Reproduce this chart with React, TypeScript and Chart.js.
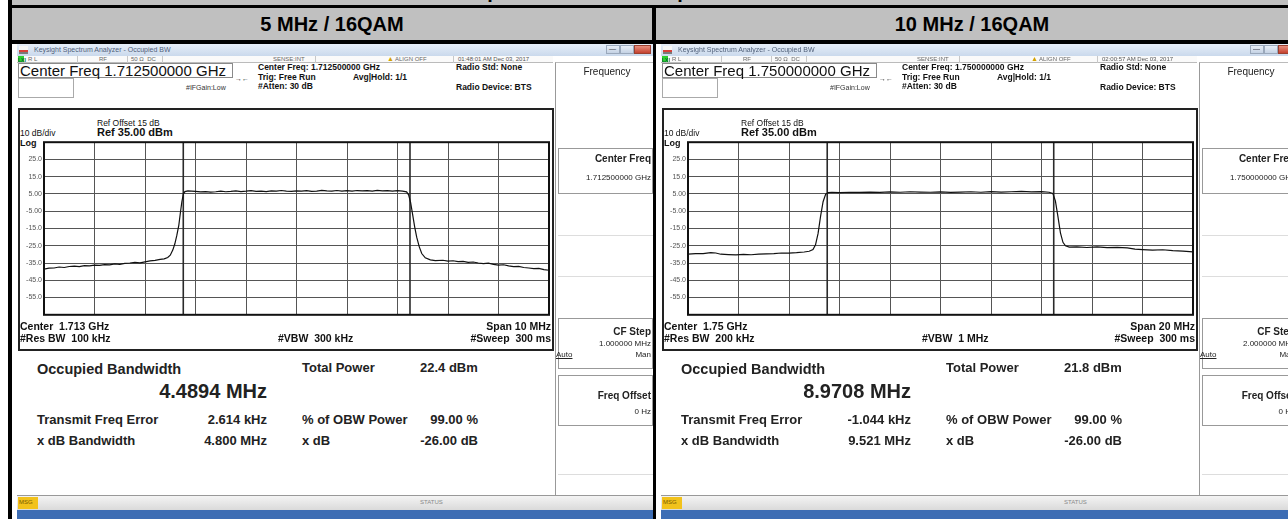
import React, { useEffect, useRef } from "react";
import { Chart, registerables } from "chart.js";

Chart.register(...registerables);

const FONT = "'Liberation Sans', Arial, Helvetica, sans-serif";

// ---------- data ----------
const pageTitle = "Spectrum Plot - Occupied Bandwidth";
const panelTitles = ["5 MHz / 16QAM", "10 MHz / 16QAM"];
const centerFreqText = ["1.712500000 GHz", "1.750000000 GHz"];
const axisCenterText = ["1.713 GHz", "1.75 GHz"];
const spanMHz = [10, 20];
const spanText = ["10 MHz", "20 MHz"];
const resBwText = ["100 kHz", "200 kHz"];
const vbwText = ["300 kHz", "1 MHz"];
const cfStepText = ["1.000000 MHz", "2.000000 MHz"];
const timestampText = ["01:48:01 AM Dec 03, 2017", "02:00:57 AM Dec 03, 2017"];
const obwMHz = [4.4894, 8.9708];
const obwText = ["4.4894 MHz", "8.9708 MHz"];
const totalPowerText = ["22.4 dBm", "21.8 dBm"];
const freqErrorText = ["2.614 kHz", "-1.044 kHz"];
const freqErrorMHz = [0.002614, -0.001044];
const xdbBwText = ["4.800 MHz", "9.521 MHz"];
const obwPowerText = "99.00 %";
const xdbText = "-26.00 dB";

const Y_MIN = -65;
const Y_MAX = 35;
const yTickValues = [35, 25, 15, 5, -5, -15, -25, -35, -45, -55, -65];
const yTickLabels = ["", "25.0", "15.0", "5.00", "-5.00", "-15.0", "-25.0", "-35.0", "-45.0", "-55.0", ""];

// 5 MHz trace (offset from center, MHz) / level (dBm)
const trace5Freq = [
  -5.0, -4.9, -4.8, -4.7, -4.6, -4.5, -4.4, -4.3, -4.2, -4.1, -4.0, -3.9, -3.8, -3.7, -3.6, -3.5,
  -3.4, -3.3, -3.2, -3.1, -3.0, -2.9, -2.8, -2.7, -2.62, -2.55, -2.5, -2.45, -2.41, -2.37, -2.33,
  -2.3, -2.27, -2.24, -2.21, -2.15, -2.0, -1.9, -1.8, -1.7, -1.6, -1.5, -1.4, -1.3, -1.2, -1.1,
  -1.0, -0.9, -0.8, -0.7, -0.6, -0.5, -0.4, -0.3, -0.2, -0.1, 0.0, 0.1, 0.2, 0.3, 0.4, 0.5, 0.6,
  0.7, 0.8, 0.9, 1.0, 1.1, 1.2, 1.3, 1.4, 1.5, 1.6, 1.7, 1.8, 1.9, 2.0, 2.1, 2.18, 2.22, 2.26,
  2.3, 2.34, 2.38, 2.43, 2.48, 2.55, 2.65, 2.75, 2.9, 3.0, 3.1, 3.2, 3.3, 3.4, 3.5, 3.6, 3.7,
  3.8, 3.9, 4.0, 4.1, 4.2, 4.3, 4.4, 4.5, 4.6, 4.7, 4.8, 4.9, 5.0,
];
const trace5Level = [
  -38.6, -38.0, -37.9, -37.3, -37.6, -37.0, -36.8, -37.1, -36.5, -36.7, -36.2, -36.4, -35.9, -36.1, -35.5, -35.8,
  -35.2, -35.0, -34.6, -34.9, -34.3, -33.8, -33.5, -32.9, -32.6, -31.8, -30.5, -27.5, -24.0, -19.0, -13.0,
  -6.0, 0.5, 5.0, 6.4, 6.8, 6.5, 6.2, 6.4, 6.1, 6.3, 6.6, 6.3, 6.5, 6.8, 6.4,
  6.6, 6.9, 6.5, 6.7, 6.4, 6.8, 6.6, 7.0, 6.7, 6.5, 6.8, 6.6, 6.9, 6.5, 6.7, 7.1, 6.8,
  6.6, 7.0, 6.7, 6.9, 6.6, 7.0, 6.8, 6.9, 6.7, 7.1, 6.8, 6.9, 6.7, 6.9, 6.6, 6.2, 4.5, 0.0,
  -7.0, -14.0, -20.0, -25.5, -29.5, -32.0, -33.2, -33.6, -33.4, -33.9, -33.7, -34.2, -34.0, -34.6, -34.4, -35.0, -35.3,
  -35.1, -35.8, -36.2, -36.0, -36.7, -37.1, -37.0, -37.6, -37.9, -38.3, -38.1, -38.8, -39.2,
];

// 10 MHz trace
const trace10Freq = [
  -10.0, -9.7, -9.4, -9.1, -8.9, -8.7, -8.4, -8.1, -7.8, -7.5, -7.2, -6.9, -6.6, -6.3, -6.0, -5.7,
  -5.4, -5.2, -5.05, -4.95, -4.85, -4.75, -4.65, -4.55, -4.45, -4.3, -4.0, -3.6, -3.2, -2.8, -2.4,
  -2.0, -1.6, -1.2, -0.8, -0.4, 0.0, 0.4, 0.8, 1.2, 1.6, 2.0, 2.4, 2.8, 3.2, 3.6, 4.0, 4.3,
  4.45, 4.55, 4.65, 4.75, 4.85, 4.95, 5.1, 5.4, 5.8, 6.2, 6.6, 7.0, 7.4, 7.7, 8.0, 8.4, 8.8,
  9.2, 9.6, 10.0,
];
const trace10Level = [
  -29.8, -29.5, -29.6, -29.0, -29.2, -29.9, -30.1, -30.3, -30.0, -30.2, -29.9, -29.7, -29.5, -29.2, -29.3, -29.0,
  -28.6, -28.2, -27.2, -24.5, -18.0, -8.0, 0.5, 4.8, 5.8, 6.0, 5.8, 6.0, 5.9, 6.1, 5.9,
  6.2, 6.0, 6.3, 6.1, 6.0, 6.2, 5.9, 6.1, 6.3, 6.0, 6.4, 6.1, 6.3, 6.5, 6.2, 6.4, 6.0,
  5.3, 1.0, -8.0, -17.5, -23.0, -25.0, -25.8, -25.6, -26.0, -25.7, -26.1, -25.9, -26.2, -27.0, -27.2, -27.5, -27.3,
  -27.8, -28.1, -28.5,
];

const traceFreqs = [trace5Freq, trace10Freq];
const traceLevels = [trace5Level, trace10Level];

// ---------- helpers ----------
type TP = {
  x: number; y: number; s: number; w?: number; al?: "left" | "right" | "center";
  b?: boolean; c?: string; children?: React.ReactNode; style?: React.CSSProperties;
};
function T({ x, y, s, w = 400, al = "left", b = false, c = "#111", children, style }: TP) {
  const left = al === "left" ? x : al === "right" ? x - w : x - w / 2;
  return (
    <div
      style={{
        position: "absolute", left, top: y - s * 0.6, width: w, textAlign: al,
        fontSize: s, lineHeight: `${Math.round(s * 1.2)}px`, fontWeight: b ? 700 : 400,
        color: c, fontFamily: FONT, whiteSpace: "nowrap", ...style,
      }}
    >
      {children}
    </div>
  );
}

function Box({ x, y, w, h, style }: { x: number; y: number; w: number; h: number; style?: React.CSSProperties }) {
  return <div style={{ position: "absolute", left: x, top: y, width: w, height: h, boxSizing: "border-box", ...style }} />;
}

const framePlugin = {
  id: "frame",
  afterDraw(chart: any) {
    const { ctx, chartArea: a } = chart;
    ctx.save();
    ctx.strokeStyle = "#111";
    ctx.lineWidth = 2;
    ctx.strokeRect(a.left, a.top, a.right - a.left, a.bottom - a.top);
    ctx.restore();
  },
};

const CW = 534;
const CH = 185;

function SpectrumPlot({ idx, left, top }: { idx: number; left: number; top: number }) {
  const ref = useRef<HTMLCanvasElement>(null);
  useEffect(() => {
    const xs = traceFreqs[idx];
    const ys = traceLevels[idx];
    const half = spanMHz[idx] / 2;
    const lo = freqErrorMHz[idx] - obwMHz[idx] / 2;
    const hi = freqErrorMHz[idx] + obwMHz[idx] / 2;
    const chart = new Chart(ref.current as HTMLCanvasElement, {
      type: "line",
      data: {
        datasets: [
          { data: xs.map((x, i) => ({ x, y: ys[i] })), borderColor: "#111", borderWidth: 1.2, pointRadius: 0, tension: 0 },
          { data: [{ x: lo, y: Y_MIN }, { x: lo, y: Y_MAX }], borderColor: "#2a2a2a", borderWidth: 1.6, pointRadius: 0 },
          { data: [{ x: hi, y: Y_MIN }, { x: hi, y: Y_MAX }], borderColor: "#2a2a2a", borderWidth: 1.6, pointRadius: 0 },
        ],
      } as any,
      options: {
        animation: false,
        responsive: false,
        events: [],
        layout: { padding: { top: 6, right: 3, bottom: 3, left: 0 } },
        plugins: { legend: { display: false }, tooltip: { enabled: false } },
        scales: {
          x: {
            type: "linear", min: -half, max: half,
            ticks: { display: false, stepSize: spanMHz[idx] / 10 },
            grid: { color: "#555", lineWidth: 1, drawTicks: false },
            border: { display: false },
            afterFit: (s: any) => { s.height = 0; },
          },
          y: {
            type: "linear", min: Y_MIN, max: Y_MAX,
            afterBuildTicks: (s: any) => { s.ticks = yTickValues.map((v) => ({ value: v })); },
            ticks: {
              padding: 2, color: "#555",
              font: { family: "'Liberation Sans Narrow', 'Liberation Sans', Arial", size: 7 },
              callback: (v: any) => { const i = yTickValues.indexOf(Number(v)); return i >= 0 ? yTickLabels[i] : ""; },
            },
            grid: { color: "#555", lineWidth: 1, drawTicks: false },
            border: { display: false },
            afterFit: (s: any) => { s.width = 26; },
          },
        },
      } as any,
      plugins: [framePlugin],
    });
    return () => chart.destroy();
  }, [idx]);
  return (
    <canvas ref={ref} width={CW} height={CH}
      style={{ position: "absolute", left, top, width: CW, height: CH }} />
  );
}

const sep = (x: number) => <Box x={x} y={12} w={1} h={7} style={{ background: "#c8c8c8" }} />;

function Screen({ idx, x0 }: { idx: number; x0: number }) {
  const small = "#666";
  return (
    <div style={{ position: "absolute", left: x0, top: 44, width: 636, height: 475, background: "#fff", overflow: "hidden" }}>
      {/* title bar */}
      <Box x={0} y={0} w={636} h={12} style={{ background: "linear-gradient(#e6eef8, #cad9ec)" }} />
      <Box x={2} y={2} w={9} h={8} style={{ background: "linear-gradient(#f6f6f6 45%, #d8413a 45%, #d8413a 70%, #7a7a7a 70%)" }} />
      <T x={17} y={6} s={7} c="#50607a">Keysight Spectrum Analyzer - Occupied BW</T>
      <Box x={589} y={1} w={14} h={9} style={{ background: "linear-gradient(#e8eef6,#c4d2e4)", border: "1px solid #9aa8bb" }} />
      <Box x={603} y={1} w={14} h={9} style={{ background: "linear-gradient(#e8eef6,#c4d2e4)", border: "1px solid #9aa8bb" }} />
      <Box x={617} y={1} w={17} h={9} style={{ background: "linear-gradient(#e8907f,#c4412f)", border: "1px solid #9a4030" }} />
      <T x={592} y={5} s={7} c="#334">—</T>

      {/* status row */}
      <Box x={0} y={12} w={536} h={7} style={{ background: "#fafafa", borderBottom: "1px solid #bbb" }} />
      <Box x={1} y={12} w={6} h={6} style={{ background: "#2fcf2f" }} />
      <T x={1} y={15.5} s={5} b c="#063">LXI</T>
      <T x={11} y={15.5} s={6} c={small}>R L</T>
      {sep(60)}
      <T x={82} y={15.5} s={6} c={small}>RF</T>
      {sep(110)}
      <T x={114} y={15.5} s={6} c={small}>50 Ω&nbsp;&nbsp;DC</T>
      {sep(145)}
      <T x={256} y={15.5} s={6} c={small}>SENSE:INT</T>
      {sep(298)}
      <T x={370} y={15.5} s={7} c="#d4a200">▲</T>
      <T x={378} y={15.5} s={6} c={small}>ALIGN OFF</T>
      {sep(436)}
      <T x={441} y={15.5} s={6} c="#555">{timestampText[idx]}</T>

      {/* center freq box */}
      <Box x={1} y={19} w={215} h={15} style={{ border: "1px solid #8a8a8a" }} />
      <T x={3} y={26.5} s={15} c="#111">Center Freq {centerFreqText[idx]}</T>
      <Box x={1} y={34} w={56} h={20} style={{ border: "1px solid #aaa" }} />
      <T x={241} y={23} s={8.5} b>Center Freq: {centerFreqText[idx]}</T>
      <T x={241} y={33} s={8.5} b>Trig: Free Run</T>
      <T x={336} y={33} s={8.5} b>Avg|Hold: 1/1</T>
      <T x={241} y={42.5} s={8.5} b>#Atten: 30 dB</T>
      <T x={439} y={23} s={8.5} b>Radio Std: None</T>
      <T x={439} y={43} s={8.5} b>Radio Device: BTS</T>
      <T x={169} y={44.5} s={7} c="#333">#IFGain:Low</T>
      <T x={218} y={35} s={7} c="#333">→←</T>

      {/* graph frame */}
      <Box x={1} y={64} w={536} h={243} style={{ border: "2px solid #222" }} />
      <T x={80} y={79} s={8.5}>Ref Offset 15 dB</T>
      <T x={3} y={89.5} s={8.5}>10 dB/div</T>
      <T x={80} y={89} s={11} b>Ref 35.00 dBm</T>
      <T x={3} y={99} s={9} b>Log</T>
      <SpectrumPlot idx={idx} left={1} top={92} />
      <T x={3} y={282} s={10.5} b>Center&nbsp;&nbsp;{axisCenterText[idx]}</T>
      <T x={3} y={294} s={10.5} b>#Res BW&nbsp;&nbsp;{resBwText[idx]}</T>
      <T x={534} y={282} s={10.5} b al="right">Span {spanText[idx]}</T>
      <T x={534} y={294} s={10.5} b al="right">#Sweep&nbsp;&nbsp;300 ms</T>
      <T x={261} y={294} s={10.5} b>#VBW&nbsp;&nbsp;{vbwText[idx]}</T>

      {/* measurements */}
      <T x={20} y={326} s={14.5} b c="#222">Occupied Bandwidth</T>
      <T x={285} y={324} s={13} b c="#222">Total Power</T>
      <T x={403} y={324} s={13} b c="#222">{totalPowerText[idx]}</T>
      <T x={250} y={347} s={20} b al="right" c="#222">{obwText[idx]}</T>
      <T x={20} y={376} s={13} b c="#222">Transmit Freq Error</T>
      <T x={250} y={376} s={13} b al="right" c="#222">{freqErrorText[idx]}</T>
      <T x={285} y={376} s={13} b c="#222">% of OBW Power</T>
      <T x={461} y={376} s={13} b al="right" c="#222">{obwPowerText}</T>
      <T x={20} y={397} s={13} b c="#222">x dB Bandwidth</T>
      <T x={250} y={397} s={13} b al="right" c="#222">{xdbBwText[idx]}</T>
      <T x={285} y={397} s={13} b c="#222">x dB</T>
      <T x={461} y={397} s={13} b al="right" c="#222">{xdbText}</T>

      {/* softkey panel */}
      <Box x={538} y={18} w={98} h={434} style={{ borderLeft: "1px solid #999", borderTop: "1px solid #bbb" }} />
      <T x={590} y={28} s={10} al="center" w={100} c="#222">Frequency</T>
      <Box x={541} y={104} w={95} h={46} style={{ border: "1px solid #999" }} />
      <T x={634} y={115} s={10} b al="right" c="#222">Center Freq</T>
      <T x={634} y={134} s={8} al="right" c="#222">{centerFreqText[idx]}</T>
      <Box x={541} y={191} w={95} h={1} style={{ background: "#ddd" }} />
      <Box x={541} y={232} w={95} h={1} style={{ background: "#ddd" }} />
      <Box x={541} y={274} w={95} h={51} style={{ border: "1px solid #999" }} />
      <T x={634} y={288} s={10} b al="right" c="#222">CF Step</T>
      <T x={634} y={300} s={8} al="right" c="#222">{cfStepText[idx]}</T>
      <T x={539} y={311} s={8} c="#222" style={{ textDecoration: "underline" }}>Auto</T>
      <T x={634} y={311} s={8} al="right" c="#222">Man</T>
      <Box x={541} y={331} w={95} h={51} style={{ border: "1px solid #999" }} />
      <T x={634} y={352} s={10} b al="right" c="#222">Freq Offset</T>
      <T x={634} y={368} s={8} al="right" c="#222">0 Hz</T>
      <Box x={541} y={430} w={95} h={1} style={{ background: "#ddd" }} />

      {/* status bar */}
      <Box x={0} y={451} w={636} h={15} style={{ background: "linear-gradient(#f4f4f4,#dadada)", borderTop: "1px solid #999" }} />
      <Box x={1} y={453} w={20} h={12} style={{ background: "#f2c21b" }} />
      <T x={2} y={459} s={6} c="#7a5a00">MSG</T>
      <T x={403} y={459} s={6} c="#888">STATUS</T>
      <Box x={0} y={466} w={636} h={9} style={{ background: "#3d6db4" }} />
    </div>
  );
}

export default function App() {
  return (
    <div style={{ position: "fixed", left: 0, top: 0, width: 1288, height: 519, background: "#fff", overflow: "hidden", fontFamily: FONT }}>
      <div style={{ position: "absolute", left: 12, top: 0, width: 1276, height: 5, background: "#c0c0c0", overflow: "hidden" }}>
        <div style={{ position: "absolute", left: 0, top: -20, width: 1276, textAlign: "center", fontSize: 20, fontWeight: 700, lineHeight: "22px", color: "#000" }}>
          {pageTitle}
        </div>
      </div>
      <Box x={8} y={5} w={1280} h={3} style={{ background: "#000" }} />
      <Box x={12} y={8} w={640} h={32} style={{ background: "#c0c0c0" }} />
      <Box x={656} y={8} w={632} h={32} style={{ background: "#c0c0c0" }} />
      <T x={332} y={24} s={20} b al="center" w={600} c="#000">{panelTitles[0]}</T>
      <T x={972} y={24} s={20} b al="center" w={600} c="#000">{panelTitles[1]}</T>
      <Box x={8} y={40} w={1280} h={4} style={{ background: "#000" }} />
      <Box x={8} y={0} w={4} h={519} style={{ background: "#000" }} />
      <Box x={652} y={5} w={4} h={514} style={{ background: "#000" }} />
      <Screen idx={0} x0={17} />
      <Screen idx={1} x0={661} />
    </div>
  );
}
